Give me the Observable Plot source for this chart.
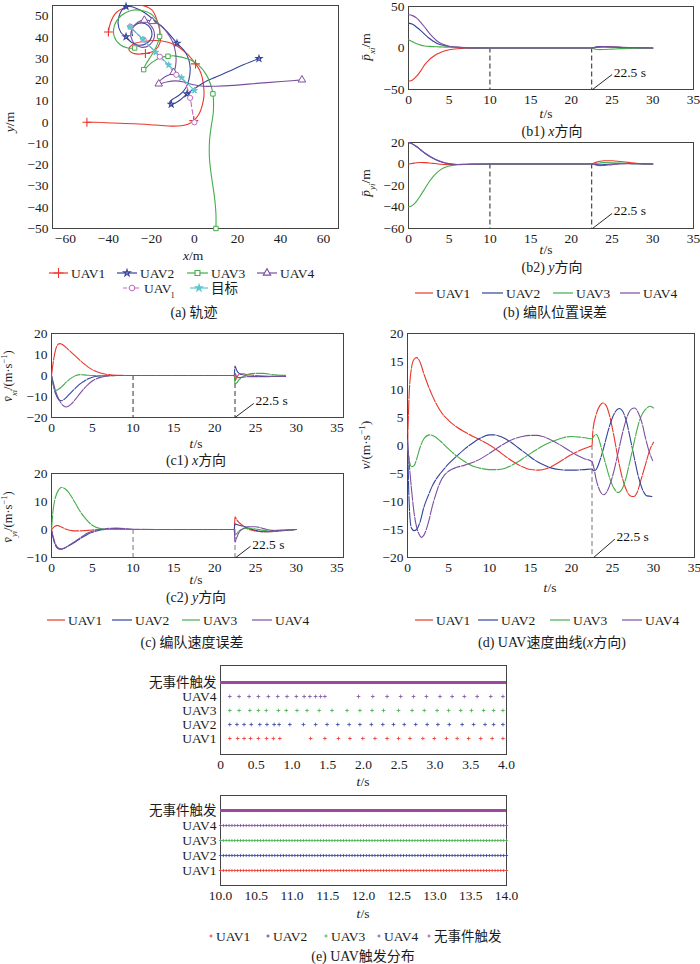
<!DOCTYPE html>
<html><head><meta charset="utf-8">
<script src="https://cdn.jsdelivr.net/npm/d3@7"></script>
<script src="https://cdn.jsdelivr.net/npm/@observablehq/plot@0.6"></script>
<style>
body{margin:0;background:#fff;}
#fig{position:relative;width:700px;height:964px;overflow:hidden;font-family:"Liberation Serif","Noto Sans CJK SC",serif;color:#1a1a1a;}
</style></head><body><div id="fig"></div>
<script>
// ---------------- DATA ----------------
const uavNames = ["UAV1","UAV2","UAV3","UAV4"];
const colorMap = {UAV1:"#e8372c", UAV2:"#34449a", UAV3:"#45ad4b", UAV4:"#7b4fa0", UAVl:"#c46bbf", target:"#5ec5cc", none:"#9b4a9b"};

// (a) trajectories [x, y]
const trajUAV1 = [[-50,0],[-46,0],[-38,-0.3],[-27.4,-0.7],[-18,-1.3],[-10.4,-1.8],[-6,-1.6],[-3,-0.9],[-0.3,0.8],[2.2,4],[3.6,7.9],[4.4,12],[4.4,15.7],[4,19],[3.4,22],[2.2,25],[0.5,27.5],[-3.4,32.2],[-8.8,36.3],[-15,38.3],[-22.8,38.2],[-28,37],[-30.5,34.5],[-28.5,32.5],[-22.8,32.4],[-18.5,33.8],[-16,37.5],[-16.2,43.5],[-17.3,47.8],[-19.7,52.8],[-24.3,55],[-30.5,54.5],[-36.3,51.7],[-39,47],[-40,42.5]];
const markUAV1 = [[-50,0],[-0.3,0.8],[0.5,27.5],[-22.8,32.4],[-40,42.5]];
const trajUAV2 = [[30,30],[23,27.2],[16.7,24.3],[10,21.3],[5.9,19.6],[1,16.5],[-3.4,13.4],[-6.5,10.6],[-9,9],[-10.8,8.5],[-11.5,9.5],[-10,11],[-7.5,12.5],[-5,14.8],[-3.2,18],[-2.2,22],[-2,26],[-2.8,30],[-4.8,33.8],[-8.1,37.2],[-12.5,42.5],[-18.9,48.3],[-25.5,53],[-31.8,54.5],[-34.5,51.5],[-35.5,46.5],[-34.2,42.3],[-31.8,40.3],[-29.5,37.8],[-26,36.3],[-22.5,37],[-20,40],[-20.3,44],[-23,46.5],[-26.8,46.3],[-29,43.7],[-28.8,40.8]];
const markUAV2 = [[30,30],[-3.4,13.4],[-10.8,8.5],[-8.1,37.2],[-31.8,54.5],[-31.8,40.3]];
const trajUAV3 = [[10,-50],[10,-43],[9.3,-35],[8,-26],[7,-17],[7,-9],[7.8,-2],[8.8,5],[8.6,13.4],[7.3,18.5],[5.3,22.8],[2,26.8],[-2,29.4],[-6,30.7],[-9.5,31.3],[-12.3,31.1],[-15.9,30.4],[-19.7,28.2],[-23.6,24.8],[-22.5,27.5],[-20,31.5],[-17.8,35.5],[-16.2,40.4],[-16.6,46],[-19.5,50.5],[-24,52.5],[-29,52.8],[-34,50.3],[-37.2,45.5],[-37.3,40.5],[-34.5,36.5],[-31,35],[-27.8,35]];
const markUAV3 = [[10,-50],[8.6,13.4],[-12.3,31.1],[-23.6,24.8],[-16.2,40.4],[-27.8,35]];
const trajUAV4 = [[50,20],[42,19.3],[33.7,18.7],[25,18],[18.2,17.4],[10,17],[4,17],[-1,17.8],[-5,19],[-9,19.5],[-13,19],[-16.6,18.1],[-15.8,19.8],[-13,21.8],[-9.7,23.5],[-8.6,28],[-8.8,33],[-10.2,38],[-12.5,42],[-15.5,45.5],[-19.7,47.5],[-23.3,48.1],[-26.5,47],[-29,44],[-29.5,40.2],[-27.6,36.8],[-24.3,35.3],[-21,36.3],[-18.8,39.5],[-19,43.5],[-21,46.3]];
const markUAV4 = [[50,20],[-16.6,18.1],[-9.7,23.5],[-19.7,47.5],[-23.3,48.1]];
const trajUAVl = [[0,0],[-1,5.5],[-2,11.5],[-3.5,16.5],[-5.3,20.3],[-8.4,22.4],[-12,26.5],[-16.1,30.9],[-20,35],[-23.6,38.9],[-27,42],[-29.8,45]];
const markUAVl = [[0,0],[-2,11.5],[-8.4,22.4],[-16.1,30.9],[-23.6,38.9],[-29.8,45]];
const trajTarget = [[0,15],[-6,21],[-12,27],[-18,33],[-24,39],[-30,45]];

// ticks
const aXTicks = [-60,-40,-20,0,20,40,60];
const aYTicks = [-50,-40,-30,-20,-10,0,10,20,30,40,50];
const tTicks = [0,5,10,15,20,25,30,35];
const b1YTicks = [-50,0,50];
const b2YTicks = [-60,-40,-20,0,20];
const c1YTicks = [-20,-10,0,10,20];
const c2YTicks = [-10,0,10,20];
const dYTicks = [-20,-15,-10,-5,0,5,10,15,20];
const e1Ticks = [0,0.5,1,1.5,2,2.5,3,3.5,4];
const e2Ticks = [10,10.5,11,11.5,12,12.5,13,13.5,14];
const switchTimes = [10,22.5];
const dSwitch = [22.5];

// (b) position errors
const bT = [0,0.5,1,1.5,2,2.5,3,3.5,4,4.5,5,6,7,8,10,15,20,22.5,23,23.5,24,25,26,27,28,29,30];
const b1UAV1 = [-40,-38.5,-34,-27.5,-20,-14.5,-10.5,-7.3,-5,-3.4,-2.2,-0.9,-0.3,-0.1,0,0,0,0,0.8,1.3,1.5,1.2,0.8,0.4,0.2,0.1,0];
const b1UAV2 = [30,28.5,25,21,16.5,12,8.5,5.5,3.8,2.6,1.8,0.8,0.3,0.1,0,0,0,0,1.2,1.6,1.5,1.2,0.8,0.4,0.2,0.1,0];
const b1UAV3 = [10,7.5,5,3.5,2.5,2,1.7,1.5,1.3,1.1,1,0.7,0.4,0.2,0,0,0,0,-1.5,-2,-1.8,-1.3,-0.8,-0.5,-0.3,-0.1,0];
const b1UAV4 = [40,39,36,31,25,18.5,13,8.5,5.5,3.5,2.2,1,0.4,0.1,0,0,0,0,0.8,1.2,1.3,1.2,0.9,0.5,0.3,0.1,0];
const b2UAV1 = [0,0.6,1.2,1.4,1.3,1,0.6,0.2,-0.2,-0.5,-0.6,-0.5,-0.3,-0.1,0,0,0,0,1.5,2.5,3,3,2.3,1.5,0.7,0.3,0];
const b2UAV2 = [20,18.5,16,13,10,7.5,5.3,3.5,2,0.9,0.2,-0.5,-0.4,-0.2,0,0,0,0,-0.5,-0.8,-0.6,0,0.5,0.5,0.3,0.1,0];
const b2UAV3 = [-40,-38.5,-34.5,-29,-23,-17,-12,-8,-5,-3,-1.8,-0.7,-0.3,-0.1,0,0,0,0,0.5,1,1.3,1.2,0.8,0.5,0.2,0.1,0];
const b2UAV4 = [20,18.7,16.3,13.3,10.3,7.8,5.5,3.7,2.2,1,0.3,-0.4,-0.4,-0.2,0,0,0,0,-1,-1.5,-1.3,-0.6,0,0.3,0.2,0.1,0];

// (c) velocity errors
const c1T = [0,0.2,0.4,0.6,0.8,1,1.2,1.5,1.8,2,2.5,3,3.5,4,4.5,5,6,7,8,10,15,20,22.4,22.5,22.7,23,23.5,24,25,26,27,28.7];
const c1UAV1 = [0,6,10.5,13.5,14.8,15.2,15,14.3,13.3,12.6,10.8,9,7.2,5.5,4,2.8,1.2,0.4,0.1,0,0,0,0,-2.5,-1,0.5,0.8,0.5,0,-0.3,-0.4,-0.3];
const c1UAV2 = [0,-4,-7.5,-9.5,-11,-11.8,-12,-11.5,-10.5,-9.7,-7.7,-5.8,-4,-2.7,-1.6,-0.8,-0.2,0,0,0,0,0,0,4.5,2.5,1,0.3,-0.2,-0.5,-0.5,-0.4,-0.3];
const c1UAV3 = [0,-4.5,-6.6,-7,-6.7,-6.2,-5.5,-4.4,-3.2,-2.5,-1,0,0.4,0.3,0.1,0,-0.1,-0.1,0,0,0,0,0,-4,-3.5,-2,-0.5,0.5,1,1,0.5,0.1];
const c1UAV4 = [0,-3,-6,-8.5,-10.5,-12,-13.3,-14.5,-15,-14.8,-13.3,-11,-8.5,-6.2,-4.2,-2.6,-0.9,-0.2,0,0,0,0,0,1,-0.5,-1,-0.8,-0.6,-0.6,-0.6,-0.5,-0.4];
const c2T = [0,0.2,0.4,0.6,0.8,1,1.2,1.5,1.8,2,2.5,3,3.5,4,4.5,5,6,7,8,10,15,20,22.4,22.5,22.7,23,23.5,24,25,26,27,28,30];
const c2UAV1 = [0,0.6,1.1,1.4,1.4,1.2,0.9,0.5,0.1,-0.1,-0.4,-0.5,-0.5,-0.4,-0.3,-0.2,0,0,0,0,0,0,0,4.5,3.5,2.5,1.3,0.3,-0.5,-0.8,-0.8,-0.5,0];
const c2UAV2 = [0,-3,-5,-6.2,-6.8,-7,-7,-6.8,-6.3,-6,-5.2,-4.3,-3.3,-2.4,-1.6,-1,-0.2,0.2,0.3,0,0,0,0,2,1.8,1.5,1.2,0.6,-0.3,-0.8,-0.7,-0.4,0];
const c2UAV3 = [0,7,10.5,12.5,13.8,14.6,15,14.8,14.2,13.6,11.5,9,6.5,4.5,2.8,1.5,0.3,0,0,0,0,0,0,-2,-1.5,-0.5,0.3,0.5,0.2,-0.3,-0.5,-0.3,0];
const c2UAV4 = [0,-2.5,-4.5,-5.8,-6.5,-6.8,-6.9,-6.7,-6.3,-5.9,-5,-4,-3,-2,-1.2,-0.6,0,0.4,0.5,0.1,0,0,0,-4.5,-3,-1,0.3,1,1,0.3,-0.3,-0.3,0];

// (d) x velocity [t, v]
const dUAV1 = [[0,0],[0.2,9],[0.5,14],[0.8,15.4],[1.1,15.7],[1.5,15],[2,12.8],[2.6,10.4],[3,9],[3.6,7.2],[4,6.2],[5,4.5],[6,3.3],[7,2.4],[8,1.6],[9,0.9],[10,0.1],[11,-0.9],[12,-2],[13,-3],[14,-3.8],[15,-4.3],[16,-4.4],[17,-4.1],[18,-3.4],[19,-2.5],[20,-1.6],[21,-0.9],[22,-0.3],[22.5,0],[22.6,2.5],[23,5.5],[23.5,7.2],[23.8,7.6],[24.2,7.2],[24.7,5],[25.2,1.5],[25.7,-2.5],[26.2,-5.8],[26.7,-8],[27.2,-9],[27.6,-9.1],[28,-8.4],[28.5,-6],[29,-3.5],[29.5,-1],[30,0.6]];
const dUAV2 = [[0,2],[0.15,-8],[0.3,-13],[0.5,-14.8],[0.8,-15.2],[1.1,-15],[1.5,-13.8],[2,-11],[2.6,-8.7],[3,-7.3],[3.5,-6],[4,-5],[5,-3.3],[6,-1.9],[7,-0.6],[8,0.5],[9,1.4],[10,1.9],[10.5,1.9],[11.5,1.5],[12.5,0.7],[13.5,-0.4],[14.5,-1.5],[15.5,-2.6],[16.5,-3.4],[17.5,-4],[18.5,-4.3],[19.5,-4.4],[20.5,-4.4],[21.5,-4.3],[22.5,-4.2],[22.7,-4.5],[23,-4.3],[23.5,-2.5],[24,0],[24.5,2.8],[25,5],[25.5,6.3],[25.8,6.6],[26.2,6.2],[26.7,4.3],[27.2,1],[27.7,-2.5],[28.2,-5.8],[28.7,-8],[29.2,-9],[29.8,-9.1]];
const dUAV3 = [[0,0],[0.2,-2.5],[0.5,-3.8],[0.8,-3.6],[1.1,-2.5],[1.5,-0.5],[2,1.2],[2.7,1.9],[3.3,1.6],[4,0.8],[5,-0.6],[6,-1.9],[7,-2.9],[8,-3.7],[9,-4.1],[10,-4.3],[11,-4.3],[12,-4],[13,-3.3],[14,-2.4],[15,-1.4],[16,-0.5],[17,0.3],[18,0.9],[19,1.4],[20,1.6],[21,1.5],[22,1.3],[22.5,1.2],[22.7,1.6],[23,2],[23.3,1.3],[23.7,-0.8],[24.2,-3.5],[24.7,-6],[25.2,-7.7],[25.7,-8.4],[26.2,-7.7],[26.7,-5.5],[27.2,-2.3],[27.7,1],[28.2,4],[28.7,5.8],[29.2,6.7],[29.6,7],[30,6.7]];
const dUAV4 = [[0,1],[0.2,-3],[0.5,-8],[0.8,-12],[1.1,-14.5],[1.4,-15.8],[1.7,-16.4],[2,-16],[2.5,-14],[3,-11],[3.5,-8.5],[4,-6.5],[4.5,-5.3],[5,-4.6],[6,-3.9],[7,-3.5],[8,-3],[9,-2.3],[10,-1.4],[11,-0.4],[12,0.5],[13,1.2],[14,1.6],[15,1.8],[15.8,1.8],[16.5,1.6],[17.5,1],[18.5,0.2],[19.5,-0.7],[20.5,-1.6],[21.5,-2.3],[22.5,-2.9],[22.7,-3.8],[23,-6],[23.5,-8.2],[23.9,-8.8],[24.3,-8.3],[24.8,-6.5],[25.3,-3.8],[25.8,-0.5],[26.3,2.7],[26.8,5.2],[27.3,6.5],[27.7,6.7],[28.1,6],[28.6,4],[29,1.5],[29.5,-1.2],[29.9,-2.7]];

// (e) trigger times
const e1UAV1 = [0.13,0.24,0.33,0.42,0.53,0.645,0.74,0.83,1.26,1.46,1.65,1.81,1.99,2.16,2.33,2.49,2.65,2.83,2.99,3.16,3.31,3.47,3.64,3.8,3.95];
const e1UAV2 = [0.13,0.23,0.33,0.43,0.55,0.65,0.75,0.82,0.97,1.16,1.33,1.49,1.64,1.8,1.95,2.11,2.27,2.42,2.57,2.73,2.89,3.04,3.2,3.38,3.54,3.7,3.82,3.95];
const e1UAV3 = [0.13,0.26,0.41,0.53,0.64,0.81,0.92,1.07,1.21,1.38,1.56,1.77,1.95,2.12,2.28,2.49,2.68,2.85,3.03,3.19,3.36,3.51,3.68,3.82,3.95];
const e1UAV4 = [0.13,0.26,0.4,0.53,0.67,0.8,0.93,1.06,1.17,1.25,1.33,1.4,1.46,1.93,2.13,2.33,2.52,2.7,2.88,3.07,3.24,3.41,3.59,3.78,3.95];
const e2Times = [10,10.04,10.08,10.12,10.16,10.2,10.24,10.28,10.32,10.36,
10.4,10.44,10.48,10.52,10.56,10.6,10.64,10.68,10.72,10.76,
10.8,10.84,10.88,10.92,10.96,11,11.04,11.08,11.12,11.16,
11.2,11.24,11.28,11.32,11.36,11.4,11.44,11.48,11.52,11.56,
11.6,11.64,11.68,11.72,11.76,11.8,11.84,11.88,11.92,11.96,
12,12.04,12.08,12.12,12.16,12.2,12.24,12.28,12.32,12.36,
12.4,12.44,12.48,12.52,12.56,12.6,12.64,12.68,12.72,12.76,
12.8,12.84,12.88,12.92,12.96,13,13.04,13.08,13.12,13.16,
13.2,13.24,13.28,13.32,13.36,13.4,13.44,13.48,13.52,13.56,
13.6,13.64,13.68,13.72,13.76,13.8,13.84,13.88,13.92,13.96,14];
const eRows = ["无事件触发","UAV4","UAV3","UAV2","UAV1"];
const e1Span = [0,4];
const e2Span = [10,14];

// ---------------- DRAW ----------------
const fig = document.getElementById("fig");
const FONT = '"Liberation Serif","Noto Sans CJK SC",serif';
const baseStyle = {fontFamily: FONT, fontSize: "13.5px", color: "#1a1a1a", background: "transparent", overflow: "visible"};
function put(el, left, top){ el.style.position="absolute"; el.style.left=left+"px"; el.style.top=top+"px"; fig.appendChild(el); }
const frameMark = () => Plot.frame({stroke:"#444", strokeWidth:1});
const MT = 10;

// (a)
{
  const trajs = [["UAV1",trajUAV1],["UAV2",trajUAV2],["UAV3",trajUAV3],["UAV4",trajUAV4]];
  const marks = [frameMark()];
  for (const [n, tr] of trajs) marks.push(Plot.line(tr, {stroke: colorMap[n], strokeWidth:1.1, curve:"catmull-rom", clip:true}));
  marks.push(Plot.line(trajUAVl, {stroke: colorMap.UAVl, strokeWidth:1.1, strokeDasharray:"5,3", curve:"catmull-rom"}));
  marks.push(Plot.line(trajTarget, {stroke: colorMap.target, strokeWidth:1.1}));
  marks.push(Plot.dot(markUAV1, {symbol:"plus", r:3, stroke: colorMap.UAV1, strokeWidth:1.1}));
  marks.push(Plot.dot(markUAV2, {symbol:"star", r:1.9, stroke: colorMap.UAV2, strokeWidth:1.1, fill:"none"}));
  marks.push(Plot.dot(markUAV3, {symbol:"square", r:2.5, stroke: colorMap.UAV3, strokeWidth:1, fill:"white"}));
  marks.push(Plot.dot(markUAV4, {symbol:"triangle", r:2.8, stroke: colorMap.UAV4, strokeWidth:1, fill:"white"}));
  marks.push(Plot.dot(markUAVl, {symbol:"circle", r:2.6, stroke: colorMap.UAVl, strokeWidth:1, fill:"white"}));
  marks.push(Plot.dot(trajTarget, {symbol:"star", r:1.9, stroke: colorMap.target, strokeWidth:1, fill: colorMap.target}));
  const p = Plot.plot({width:345, height:MT+223+25, marginLeft:52, marginRight:7, marginTop:MT, marginBottom:25, style:baseStyle,
    x:{domain:[-66,67], ticks:aXTicks, tickSize:0, tickPadding:5, label:null},
    y:{domain:[-50,55], ticks:aYTicks, tickSize:0, tickPadding:4, label:null},
    marks});
  put(p, 0, 5 - MT);
}

function tsPanel({rowsBy, left, top, width, ml, mr, plotH, xDomain, yDomain, yTicks, rules, ruleColor, note, lineDash}) {
  const marks = [frameMark()];
  marks.push(Plot.ruleX(rules, {y1:0, y2:yDomain[0], stroke:ruleColor, strokeDasharray:"5,3", strokeWidth:1}));
  for (const n of uavNames) marks.push(Plot.line(rowsBy[n], {x:"t", y:"v", stroke: colorMap[n], strokeWidth:1.1, curve:"monotone-x", strokeDasharray: lineDash}));
  marks.push(Plot.link([note], {x1:"x1", y1:"y1", x2:"x2", y2:"y2", stroke:"#111", strokeWidth:0.9}));
  marks.push(Plot.text([note], {x:"tx", y:"ty", text:"label", textAnchor:"start", fontSize:13.5, fill:"#111"}));
  const p = Plot.plot({width, height: MT+plotH+25, marginLeft:ml, marginRight:mr, marginTop:MT, marginBottom:25, style:baseStyle,
    x:{domain:xDomain, ticks:tTicks, tickSize:0, tickPadding:5, label:null},
    y:{domain:yDomain, ticks:yTicks, tickSize:0, tickPadding:4, label:null},
    marks});
  put(p, left, top - MT);
}
const rowsOf = (ts, vals) => ts.map((t,i)=>({t, v: vals[i]}));
const rowsPairs = (pairs) => pairs.map(([t,v])=>({t,v}));

tsPanel({rowsBy:{UAV1:rowsOf(bT,b1UAV1),UAV2:rowsOf(bT,b1UAV2),UAV3:rowsOf(bT,b1UAV3),UAV4:rowsOf(bT,b1UAV4)},
  left:350, top:6, width:350, ml:58, mr:7, plotH:83, xDomain:[0,35], yDomain:[-50,50], yTicks:b1YTicks, rules:switchTimes, ruleColor:"#222",
  note:{x1:22.6,y1:-50,x2:25,y2:-32,tx:25.2,ty:-29.5,label:"22.5 s"}});
tsPanel({rowsBy:{UAV1:rowsOf(bT,b2UAV1),UAV2:rowsOf(bT,b2UAV2),UAV3:rowsOf(bT,b2UAV3),UAV4:rowsOf(bT,b2UAV4)},
  left:350, top:142, width:350, ml:58, mr:7, plotH:86, xDomain:[0,35], yDomain:[-60,20], yTicks:b2YTicks, rules:switchTimes, ruleColor:"#222",
  note:{x1:22.6,y1:-60,x2:25,y2:-46,tx:25.2,ty:-43.5,label:"22.5 s"}});
tsPanel({rowsBy:{UAV1:rowsOf(c1T,c1UAV1),UAV2:rowsOf(c1T,c1UAV2),UAV3:rowsOf(c1T,c1UAV3),UAV4:rowsOf(c1T,c1UAV4)},
  left:0, top:333, width:350, ml:51, mr:7, plotH:84, xDomain:[0,35.8], yDomain:[-20,20], yTicks:c1YTicks, rules:switchTimes, ruleColor:"#333",
  note:{x1:22.5,y1:-20,x2:24.8,y2:-13.3,tx:25,ty:-12,label:"22.5 s"}, lineDash:"14,1.5"});
tsPanel({rowsBy:{UAV1:rowsOf(c2T,c2UAV1),UAV2:rowsOf(c2T,c2UAV2),UAV3:rowsOf(c2T,c2UAV3),UAV4:rowsOf(c2T,c2UAV4)},
  left:0, top:473, width:350, ml:51, mr:7, plotH:84, xDomain:[0,35.8], yDomain:[-10,20], yTicks:c2YTicks, rules:switchTimes, ruleColor:"#777",
  note:{x1:22.6,y1:-10,x2:24.4,y2:-6,tx:24.6,ty:-5.3,label:"22.5 s"}, lineDash:"14,1.5"});
tsPanel({rowsBy:{UAV1:rowsPairs(dUAV1),UAV2:rowsPairs(dUAV2),UAV3:rowsPairs(dUAV3),UAV4:rowsPairs(dUAV4)},
  left:350, top:333, width:350, ml:57, mr:6, plotH:224, xDomain:[0,35], yDomain:[-20,20], yTicks:dYTicks, rules:dSwitch, ruleColor:"#777",
  note:{x1:22.7,y1:-20,x2:25.3,y2:-16.7,tx:25.5,ty:-16.2,label:"22.5 s"}, lineDash:"14,1.5"});

function ePanel({times, span, xDomain, ticks, top, plotH, fmt, r}) {
  const marks = [frameMark(),
    Plot.ruleY([{uav:"无事件触发", t1:span[0], t2:span[1]}], {y:"uav", x1:"t1", x2:"t2", stroke:colorMap.none, strokeWidth:3.2})];
  uavNames.forEach((n,i)=> marks.push(Plot.dot(times[i].map(t=>({t, uav:n})), {x:"t", y:"uav", symbol:"plus", r, stroke:colorMap[n], strokeWidth:0.8})));
  const p = Plot.plot({width:365, height:MT+plotH+25, marginLeft:70, marginRight:9, marginTop:MT, marginBottom:25, style:baseStyle,
    x:{domain:xDomain, ticks, tickFormat: fmt, tickSize:0, tickPadding:5, label:null},
    y:{type:"point", domain:eRows, padding:0.97, tickSize:0, tickPadding:4, label:null},
    marks});
  put(p, 150, top - MT);
}
ePanel({times:[e1UAV1,e1UAV2,e1UAV3,e1UAV4], span:e1Span, xDomain:[0,4], ticks:e1Ticks, top:665, plotH:89, fmt: d => d===0 ? "0" : d.toFixed(1), r:1.3});
ePanel({times:[e2Times,e2Times,e2Times,e2Times], span:e2Span, xDomain:[10,14], ticks:e2Ticks, top:795, plotH:90, fmt: d => d.toFixed(1), r:1.1});

// ---------------- OVERLAY TEXT / LEGENDS ----------------
const ov = d3.create("svg").attr("width",700).attr("height",964)
  .style("position","absolute").style("left","0px").style("top","0px").style("pointer-events","none")
  .style("font-family", FONT).style("fill","#1a1a1a");
fig.appendChild(ov.node());

function rich(x, y, parts, {anchor="middle", rotate=0, size=13.5}={}) {
  const t = ov.append("text").attr("transform", `translate(${x},${y})` + (rotate ? ` rotate(${rotate})` : ""))
    .attr("text-anchor", anchor).attr("dy","0.35em").style("font-size", size+"px");
  for (const p of (typeof parts === "string" ? [{t:parts}] : parts)) {
    const s = t.append("tspan").text(p.t);
    if (p.it) s.style("font-style","italic");
    if (p.sub) s.attr("baseline-shift","sub").style("font-size", (size*0.68)+"px");
    if (p.sup) s.attr("baseline-shift","super").style("font-size", (size*0.68)+"px");
  }
}
const symType = {plus:d3.symbolPlus, star:d3.symbolStar, square:d3.symbolSquare, triangle:d3.symbolTriangle, circle:d3.symbolCircle};
function legendItem(y, x1, x2, color, label, {symbol=null, dash=null, fill="white"}={}) {
  ov.append("line").attr("x1",x1).attr("x2",x2).attr("y1",y).attr("y2",y)
      .attr("stroke",color).attr("stroke-width",1.2).attr("stroke-dasharray",dash);
  if (symbol) ov.append("path").attr("transform",`translate(${(x1+x2)/2},${y})`)
      .attr("d", d3.symbol().type(symType[symbol]).size(symbol==="plus"?34:(symbol==="star"?14:24))())
      .attr("stroke",color).attr("stroke-width",1.1).attr("fill", fill);
  rich(x2+3, y, label, {anchor:"start"});
}

// (a)
rich(9, 122, [{t:"y",it:true},{t:"/m"}], {rotate:-90});
rich(193, 255, [{t:"x",it:true},{t:"/m"}]);
legendItem(273, 49, 68, colorMap.UAV1, "UAV1", {symbol:"plus", fill:"none"});
legendItem(273, 117, 137, colorMap.UAV2, "UAV2", {symbol:"star", fill:"none"});
legendItem(273, 187, 208, colorMap.UAV3, "UAV3", {symbol:"square"});
legendItem(273, 257, 277, colorMap.UAV4, "UAV4", {symbol:"triangle"});
legendItem(288, 123, 141, colorMap.UAVl, [{t:"UAV"},{t:"l",sub:true}], {symbol:"circle", dash:"4,2"});
legendItem(288, 190, 208, colorMap.target, "目标", {symbol:"star", fill:colorMap.target});
rich(194, 312, "(a) 轨迹", {size:14});

// (b)
rich(365, 47, [{t:"p\u0304",it:true},{t:"xi",it:true,sub:true},{t:"/m"}], {rotate:-90});
rich(546, 113, [{t:"t",it:true},{t:"/s"}]);
rich(552, 131, [{t:"(b1) "},{t:"x",it:true},{t:"方向"}], {size:14});
rich(365, 183, [{t:"p\u0304",it:true},{t:"yi",it:true,sub:true},{t:"/m"}], {rotate:-90});
rich(546, 249, [{t:"t",it:true},{t:"/s"}]);
rich(552, 267, [{t:"(b2) "},{t:"y",it:true},{t:"方向"}], {size:14});
[[415,433],[482,503],[553,573],[620,640]].forEach(([a,b],i)=> legendItem(293, a, b, colorMap[uavNames[i]], uavNames[i]));
rich(555, 312, "(b) 编队位置误差", {size:14});

// (c)
rich(8, 376, [{t:"v\u0304",it:true},{t:"xi",it:true,sub:true},{t:"/(m·s"},{t:"−1",sup:true},{t:")"}], {rotate:-90, size:12.5});
rich(196, 443, [{t:"t",it:true},{t:"/s"}]);
rich(196, 460, [{t:"(c1) "},{t:"x",it:true},{t:"方向"}], {size:14});
rich(8, 517, [{t:"v\u0304",it:true},{t:"yi",it:true,sub:true},{t:"/(m·s"},{t:"−1",sup:true},{t:")"}], {rotate:-90, size:12.5});
rich(196, 579, [{t:"t",it:true},{t:"/s"}]);
rich(196, 597, [{t:"(c2) "},{t:"y",it:true},{t:"方向"}], {size:14});
[[47,65],[112,132],[182,200],[252,272]].forEach(([a,b],i)=> legendItem(620, a, b, colorMap[uavNames[i]], uavNames[i]));
rich(192, 642, "(c) 编队速度误差", {size:14});

// (d)
rich(365, 445, [{t:"v",it:true},{t:"/(m·s"},{t:"−1",sup:true},{t:")"}], {rotate:-90});
rich(550, 587, [{t:"t",it:true},{t:"/s"}]);
[[415,433],[478,498],[550,570],[622,642]].forEach(([a,b],i)=> legendItem(620, a, b, colorMap[uavNames[i]], uavNames[i]));
rich(552, 642, [{t:"(d) UAV速度曲线("},{t:"x",it:true},{t:"方向)"}], {size:14});

// (e)
rich(363, 781, [{t:"t",it:true},{t:"/s"}]);
rich(363, 913, [{t:"t",it:true},{t:"/s"}]);
const eLeg = [[211,"UAV1",colorMap.UAV1],[268,"UAV2",colorMap.UAV2],[326,"UAV3",colorMap.UAV3],[379,"UAV4",colorMap.UAV4],[429,"无事件触发",colorMap.none]];
for (const [x,label,c] of eLeg) {
  ov.append("path").attr("d", `M${x-1.6},936H${x+1.6}M${x},${936-1.6}V${936+1.6}`).attr("stroke",c).attr("stroke-width",0.9).attr("fill","none");
  rich(x+5, 936, label, {anchor:"start"});
}
rich(363, 956, "(e) UAV触发分布", {size:14});
</script></body></html>
